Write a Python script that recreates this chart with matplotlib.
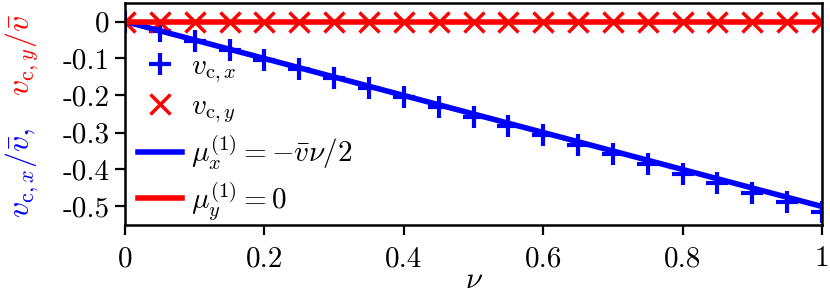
import matplotlib
matplotlib.use("Agg")
import matplotlib.pyplot as plt

plt.rcParams['mathtext.fontset'] = 'cm'
plt.rcParams['font.family'] = ['cmr10', 'DejaVu Sans']
plt.rcParams['axes.unicode_minus'] = False

# data
nu = [0.0, 0.05, 0.10, 0.15, 0.20, 0.25, 0.30, 0.35, 0.40, 0.45, 0.50,
      0.55, 0.60, 0.65, 0.70, 0.75, 0.80, 0.85, 0.90, 0.95, 1.0]
vcx = [0.0, -0.026, -0.052, -0.077, -0.103, -0.128, -0.154, -0.180, -0.205,
       -0.231, -0.257, -0.283, -0.308, -0.333, -0.359, -0.385, -0.411,
       -0.437, -0.463, -0.489, -0.515]
vcy = [0.0] * len(nu)
line_nu = [0.0, 1.0]
mux = [0.0, -0.5]
muy = [0.0, 0.0]

xticks = [0, 0.2, 0.4, 0.6, 0.8, 1.0]
xticklabels = ["0", "0.2", "0.4", "0.6", "0.8", "1"]
yticks = [0, -0.1, -0.2, -0.3, -0.4, -0.5]
yticklabels = ["0", "-0.1", "-0.2", "-0.3", "-0.4", "-0.5"]

fig = plt.figure(figsize=(8.3, 2.93), dpi=100)
ax = fig.add_axes([125 / 830, 1 - 225 / 293, 697 / 830, 222 / 293])

ax.plot(nu, vcx, ls='none', marker='+', color='blue', ms=16, mew=3,
        label=r'$v_{\mathrm{c},x}$')
ax.plot(nu, vcy, ls='none', marker='x', color='red', ms=14, mew=2.5,
        label=r'$v_{\mathrm{c},y}$')
ax.plot(line_nu, mux, color='blue', lw=4,
        label=r'$\mu_x^{(1)}=-\bar{v}\nu/2$')
ax.plot(line_nu, muy, color='red', lw=4,
        label=r'$\mu_y^{(1)}=0$')

ax.set_xlim(0, 1)
ax.set_ylim(-0.55, 0.05)
ax.set_xticks(xticks)
ax.set_xticklabels(xticklabels)
ax.set_yticks(yticks)
ax.set_yticklabels(yticklabels)
ax.tick_params(direction='out', length=7, width=1.6, labelsize=21)
ax.tick_params(axis='x', pad=8)
ax.tick_params(axis='y', pad=4)
for s in ax.spines.values():
    s.set_linewidth(1.8)

ax.set_xlabel(r'$\nu$', fontsize=22, labelpad=-4)

fig.text(22 / 830, 1 - 173 / 293, r'$v_{\mathrm{c},x}/\bar{v}$,', color='blue',
         rotation=90, ha='center', va='center', fontsize=23)
fig.text(22 / 830, 1 - 55 / 293, r'$v_{\mathrm{c},y}/\bar{v}$', color='red',
         rotation=90, ha='center', va='center', fontsize=23)

ax.legend(loc='upper left', frameon=False, fontsize=21, handlelength=1.5,
          handletextpad=0.3, labelspacing=0.3, borderaxespad=0.3,
          bbox_to_anchor=(-0.01, 0.865))

fig.savefig('out.png', dpi=100)
